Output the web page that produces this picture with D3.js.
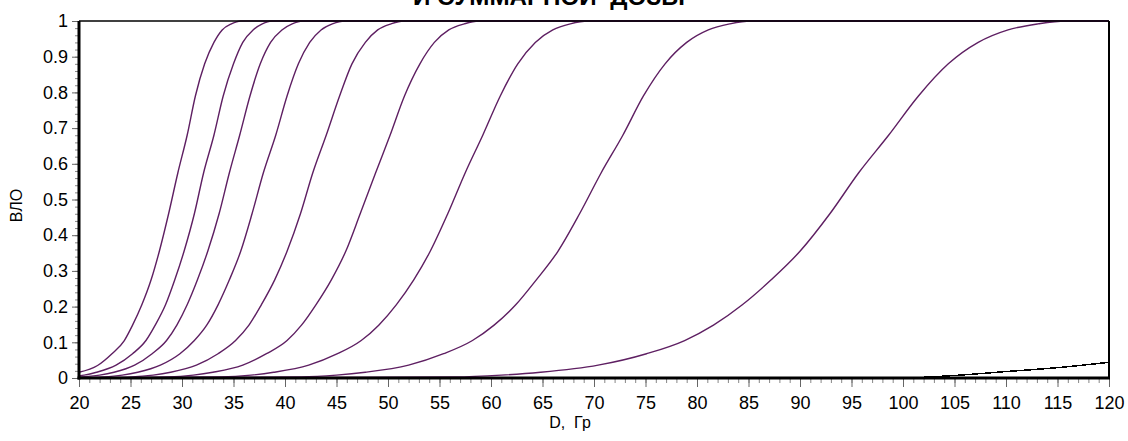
<!DOCTYPE html>
<html lang="ru">
<head>
<meta charset="UTF-8">
<script src="https://cdnjs.cloudflare.com/ajax/libs/d3/7.8.5/d3.min.js"></script>
<title>ВЛО</title>
<style>
  body { margin: 0; background: #fff; }
  text { font-family: Arial, "Liberation Sans", sans-serif; }
</style>
</head>
<body>
<script>

// dose (Гр) and ВЛО value pairs
let curve1 = [[20,0.016],[21.8,0.035],[23.2,0.068],[24.4,0.105],[25.2,0.148],[26.1,0.205],[27.0,0.275],[27.8,0.355],[28.7,0.46],[29.6,0.575],[30.5,0.68],[31.3,0.79],[32.2,0.88],[33.1,0.94],[33.9,0.975],[34.8,0.992],[35.7,1],[120,1]];
let curve2 = [[20,0.006],[20.5,0.008],[21.7,0.016],[23.6,0.036],[25.2,0.068],[26.5,0.105],[27.4,0.148],[28.4,0.205],[29.3,0.275],[30.2,0.355],[31.2,0.46],[32.1,0.575],[33.1,0.68],[34.0,0.79],[35.0,0.88],[35.9,0.94],[36.9,0.975],[37.8,0.992],[38.7,1],[120,1]];
let curve3 = [[20,0.003],[22.0,0.008],[23.4,0.016],[25.4,0.036],[27.1,0.068],[28.5,0.105],[29.5,0.148],[30.5,0.205],[31.5,0.275],[32.5,0.355],[33.6,0.46],[34.6,0.575],[35.6,0.68],[36.6,0.79],[37.6,0.88],[38.6,0.94],[39.7,0.975],[40.7,0.992],[41.7,1],[120,1]];
let curve4 = [[20,0.001],[22.3,0.003],[24.2,0.008],[25.7,0.016],[27.9,0.036],[29.8,0.068],[31.2,0.105],[32.4,0.148],[33.5,0.205],[34.6,0.275],[35.7,0.355],[36.8,0.46],[37.9,0.575],[39.1,0.68],[40.2,0.79],[41.3,0.88],[42.4,0.94],[43.5,0.975],[44.6,0.992],[45.8,1],[120,1]];
let curve5 = [[20,0],[25.1,0.003],[27.2,0.008],[28.9,0.016],[31.4,0.036],[33.5,0.068],[35.2,0.105],[36.5,0.148],[37.7,0.205],[39.0,0.275],[40.2,0.355],[41.5,0.46],[42.7,0.575],[44.0,0.68],[45.3,0.79],[46.5,0.88],[47.8,0.94],[49.0,0.975],[50.3,0.992],[51.5,1],[120,1]];
let curve6 = [[20,0],[28.7,0.003],[31.1,0.008],[33.0,0.016],[35.9,0.036],[38.2,0.068],[40.2,0.105],[41.6,0.148],[43.0,0.205],[44.5,0.275],[45.9,0.355],[47.3,0.46],[48.8,0.575],[50.2,0.68],[51.6,0.79],[53.1,0.88],[54.5,0.94],[55.9,0.975],[57.4,0.992],[58.8,1],[120,1]];
let curve7 = [[20,0],[33.8,0.003],[36.7,0.008],[38.9,0.016],[42.3,0.036],[45.1,0.068],[47.4,0.105],[49.1,0.148],[50.8,0.205],[52.5,0.275],[54.1,0.355],[55.8,0.46],[57.5,0.575],[59.2,0.68],[60.9,0.79],[62.6,0.88],[64.3,0.94],[66.0,0.975],[67.7,0.992],[69.4,1],[120,1]];
let curve8 = [[20,0],[41.6,0.003],[45.0,0.008],[47.8,0.016],[52.0,0.036],[55.4,0.068],[58.2,0.105],[60.3,0.148],[62.4,0.205],[64.4,0.275],[66.5,0.355],[68.6,0.46],[70.7,0.575],[72.8,0.68],[74.8,0.79],[76.9,0.88],[79.0,0.94],[81.1,0.975],[83.2,0.992],[85.2,1],[120,1]];
let curve9 = [[20,0],[56.5,0.003],[61.0,0.008],[64.8,0.016],[70.4,0.036],[75.1,0.068],[78.8,0.105],[81.6,0.148],[84.4,0.205],[87.2,0.275],[90.0,0.355],[92.9,0.46],[95.7,0.575],[98.6,0.68],[101.5,0.79],[104.4,0.88],[107.3,0.94],[110.2,0.975],[113.1,0.992],[115.8,1],[120,1]];
let curveBlack = [[20,0],[100,0],[102,0.002],[105,0.007],[110,0.018],[115,0.029],[120,0.044]];

let purpleCurves = [curve1, curve2, curve3, curve4, curve5, curve6, curve7, curve8, curve9];

let xTicks = [20,25,30,35,40,45,50,55,60,65,70,75,80,85,90,95,100,105,110,115,120];
let yTicks = [0,0.1,0.2,0.3,0.4,0.5,0.6,0.7,0.8,0.9,1];
let yTickLabels = ["0","0.1","0.2","0.3","0.4","0.5","0.6","0.7","0.8","0.9","1"];

// layout
let margin = {top: 21, right: 19, bottom: 63, left: 79};
let width = 1128 - margin.left - margin.right;
let height = 441 - margin.top - margin.bottom;

let x = d3.scaleLinear().domain([20, 120]).range([0, width]);
let y = d3.scaleLinear().domain([0, 1]).range([height, 0]);

let root = d3.select("body").append("svg")
    .attr("width", 1128)
    .attr("height", 441);

// title, only its lower edge shows at the top (as in the original)
root.append("text")
    .attr("x", 549)
    .attr("y", 5)
    .attr("text-anchor", "middle")
    .style("font-size", "23px")
    .style("font-weight", "bold")
    .style("white-space", "pre")
    .attr("textLength", 272)
    .attr("lengthAdjust", "spacingAndGlyphs")
    .text("И СУММАРНОЙ  ДОЗЫ");

let svg = root.append("g")
    .attr("transform", "translate(" + margin.left + "," + margin.top + ")");

// minor ticks
let xMinor = d3.range(20, 121, 1);
svg.append("g")
    .attr("transform", "translate(0," + height + ")")
    .call(d3.axisBottom(x).tickValues(xMinor).tickSize(5).tickFormat(""))
    .call(g => g.select(".domain").remove())
    .call(g => g.selectAll("line").attr("stroke", "#888"));

let yMinor = d3.range(0, 51).map(i => i / 50);
svg.append("g")
    .call(d3.axisLeft(y).tickValues(yMinor).tickSize(4).tickFormat(""))
    .call(g => g.select(".domain").remove())
    .call(g => g.selectAll("line").attr("stroke", "#888"));

// major ticks + labels
svg.append("g")
    .attr("transform", "translate(0," + height + ")")
    .call(d3.axisBottom(x).tickValues(xTicks).tickSize(9).tickPadding(9).tickFormat(d3.format("d")))
    .call(g => g.select(".domain").remove())
    .call(g => g.selectAll("line").attr("stroke", "#666"))
    .call(g => g.selectAll("text").style("font-size", "18px").attr("fill", "#000"));

svg.append("g")
    .call(d3.axisLeft(y).tickValues(yTicks).tickSize(7).tickPadding(4).tickFormat((d, i) => yTickLabels[i]))
    .call(g => g.select(".domain").remove())
    .call(g => g.selectAll("line").attr("stroke", "#666"))
    .call(g => g.selectAll("text").style("font-size", "18px").attr("fill", "#000"));

// curves
let line = d3.line()
    .x(d => x(d[0]))
    .y(d => y(d[1]))
    .curve(d3.curveMonotoneX);

svg.selectAll(".vlo")
    .data(purpleCurves)
    .enter().append("path")
    .attr("class", "vlo")
    .attr("d", line)
    .attr("fill", "none")
    .attr("stroke", "#5e1f62")
    .attr("stroke-width", 1.4);

svg.append("path")
    .datum(curveBlack)
    .attr("d", line)
    .attr("fill", "none")
    .attr("stroke", "#000")
    .attr("stroke-width", 1.5)
    .attr("shape-rendering", "crispEdges");

// frame
svg.append("line").attr("x1", 0).attr("x2", width).attr("y1", 0).attr("y2", 0)
    .attr("stroke", "#000").attr("stroke-width", 1.6);
svg.append("line").attr("x1", width).attr("x2", width).attr("y1", 0).attr("y2", height)
    .attr("stroke", "#000").attr("stroke-width", 2);
svg.append("line").attr("x1", 0).attr("x2", 0).attr("y1", 0).attr("y2", height + 1.5)
    .attr("stroke", "#000").attr("stroke-width", 3);
svg.append("line").attr("x1", -1.5).attr("x2", width + 1).attr("y1", height).attr("y2", height)
    .attr("stroke", "#000").attr("stroke-width", 3);

// axis titles
svg.append("text")
    .attr("x", 491)
    .attr("y", height + 50)
    .attr("text-anchor", "middle")
    .style("font-size", "16px")
    .style("white-space", "pre")
    .text("D,  Гр");

svg.append("text")
    .attr("transform", "rotate(-90)")
    .attr("x", -(height / 2) - 6)
    .attr("y", -57)
    .attr("text-anchor", "middle")
    .style("font-size", "16px")
    .text("ВЛО");

</script>
</body>
</html>
